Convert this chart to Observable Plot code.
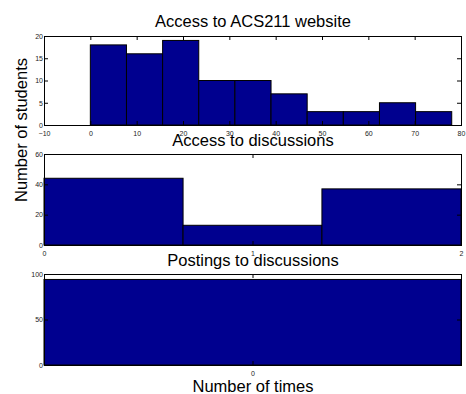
<!DOCTYPE html>
<html>
<head>
<meta charset="utf-8">
<script src="https://cdn.jsdelivr.net/npm/d3@7"></script>
<script src="https://cdn.jsdelivr.net/npm/@observablehq/plot@0.6"></script>
<style>
  html, body { margin: 0; padding: 0; background: #fff; }
  #fig { position: relative; width: 466px; height: 394px; overflow: hidden; }
  #fig svg { position: absolute; left: 0; top: 0; }
</style>
</head>
<body>
<div id="fig"></div>
<script>
// Panel 1: visits to the course website
const websiteTitle = "Access to ACS211 website";
const websiteBinLo = [0, 7.8, 15.6, 23.4, 31.2, 39, 46.8, 54.6, 62.4, 70.2];
const websiteBinHi = [7.8, 15.6, 23.4, 31.2, 39, 46.8, 54.6, 62.4, 70.2, 78];
const websiteCounts = [18, 16, 19, 10, 10, 7, 3, 3, 5, 3];
const websiteXTicks = [-10, 0, 10, 20, 30, 40, 50, 60, 70, 80];
const websiteYTicks = [0, 5, 10, 15, 20];

// Panel 2: visits to the discussion board
const discussTitle = "Access to discussions";
const discussBinLo = [0, 0.667, 1.333];
const discussBinHi = [0.667, 1.333, 2];
const discussCounts = [44, 13, 37];
const discussXTicks = [0, 1, 2];
const discussYTicks = [0, 20, 40, 60];

// Panel 3: posts written on the discussion board
const postTitle = "Postings to discussions";
const postBinLo = [-0.5];
const postBinHi = [0.5];
const postCounts = [94];
const postXTicks = [0];
const postYTicks = [0, 50, 100];

const yLabel = "Number of students";
const xLabel = "Number of times";

const W = 466, H = 394, ML = 44, MR = 5;
const FW = W - ML - MR;
const BAR = "#00008f";
const FONT = "'Liberation Sans', Arial, Helvetica, sans-serif";
const TICK = 4;
const fmt = d3.format("d");

function panel({lo, hi, counts, xDomain, yDomain, xTicks, yTicks, title, top, bottom, titleGap, extra = []}) {
  const FH = H - top - bottom;
  const bins = counts.map((n, i) => ({lo: lo[i], hi: hi[i], n}));
  return Plot.plot({
    width: W,
    height: H,
    marginLeft: ML,
    marginRight: MR,
    marginTop: top,
    marginBottom: bottom,
    x: {domain: xDomain},
    y: {domain: yDomain},
    style: {fontFamily: FONT, fontSize: "7px", color: "#000", background: "transparent", overflow: "visible"},
    marks: [
      Plot.rectY(bins, {x1: "lo", x2: "hi", y: "n", fill: BAR, stroke: "#000", strokeWidth: 1}),
      Plot.frame({stroke: "#000", strokeWidth: 1}),
      // inward tick marks on all four sides
      Plot.tickX(xTicks, {x: d => d, insetTop: FH - TICK, stroke: "#000"}),
      Plot.tickX(xTicks, {x: d => d, insetBottom: FH - TICK, stroke: "#000"}),
      Plot.tickY(yTicks, {y: d => d, insetRight: FW - TICK, stroke: "#000"}),
      Plot.tickY(yTicks, {y: d => d, insetLeft: FW - TICK, stroke: "#000"}),
      Plot.axisX({ticks: xTicks, tickFormat: fmt, tickSize: 0, tickPadding: 6, label: null, fill: "#222"}),
      Plot.axisY({ticks: yTicks, tickFormat: fmt, tickSize: 0, tickPadding: 1.5, label: null, fill: "#222"}),
      Plot.text([title], {frameAnchor: "top", lineAnchor: "bottom", dy: -titleGap, fontSize: 16.5, fill: "#000"}),
      ...extra
    ]
  });
}

const fig = document.getElementById("fig");

fig.append(panel({
  lo: websiteBinLo, hi: websiteBinHi, counts: websiteCounts,
  xDomain: [-10, 80], yDomain: [0, 20],
  xTicks: websiteXTicks, yTicks: websiteYTicks,
  title: websiteTitle, top: 36, bottom: 269, titleGap: 10
}));

fig.append(panel({
  lo: discussBinLo, hi: discussBinHi, counts: discussCounts,
  xDomain: [0, 2], yDomain: [0, 60],
  xTicks: discussXTicks, yTicks: discussYTicks,
  title: discussTitle, top: 154, bottom: 149, titleGap: 8.5,
  extra: [
    Plot.text([yLabel], {frameAnchor: "left", rotate: -90, lineAnchor: "bottom", dx: -18, dy: 2, fontSize: 16.5, fill: "#000"})
  ]
}));

fig.append(panel({
  lo: postBinLo, hi: postBinHi, counts: postCounts,
  xDomain: [-0.5, 0.5], yDomain: [0, 100],
  xTicks: postXTicks, yTicks: postYTicks,
  title: postTitle, top: 274, bottom: 29, titleGap: 8.5,
  extra: [
    Plot.text([xLabel], {frameAnchor: "bottom", lineAnchor: "bottom", dy: 26.5, fontSize: 16.5, fill: "#000"})
  ]
}));
</script>
</body>
</html>
